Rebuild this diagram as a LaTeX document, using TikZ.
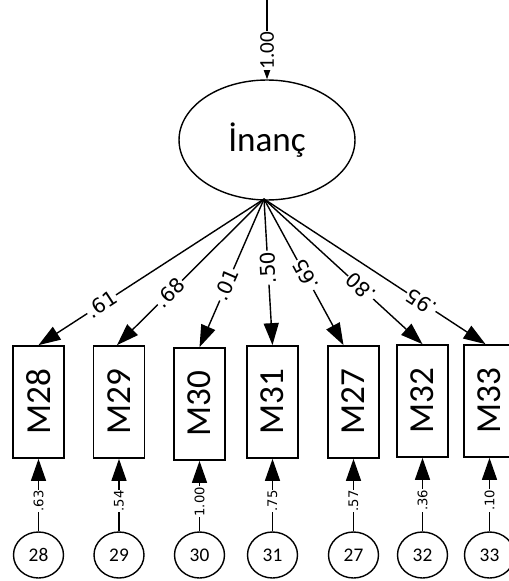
\documentclass[tikz,border=0pt]{standalone}
\usepackage{fontspec}
\setmainfont{Carlito}
\newfontfamily\coeffont{DejaVu Sans}
\usetikzlibrary{arrows.meta,shapes.geometric}

\tikzset{
    item/.style={draw, line width=1pt, minimum width=1.02cm, minimum height=2.24cm, inner sep=0pt, font=\fontsize{20}{22}\selectfont},
    errc/.style={draw, ellipse, line width=0.8pt, minimum width=1.0cm, minimum height=0.92cm, inner sep=0pt, font=\fontsize{11}{12}\selectfont},
    coef/.style={fill=white, inner sep=0.5pt, font=\coeffont\fontsize{11.5}{12}\selectfont, sloped, allow upside down},
    errcoef/.style={fill=white, inner sep=0.5pt, font=\coeffont\fontsize{7.5}{8}\selectfont, sloped},
    load/.style={line width=0.8pt, {Triangle[length=0.44cm,width=0.3cm]}-},
    err/.style={line width=0.8pt, -{Triangle[length=0.44cm,width=0.3cm]}},
}

\begin{document}
\begin{tikzpicture}[x=0.02cm,y=-0.02cm]
    \useasboundingbox (0,0) rectangle (508,581);

    \node[draw, ellipse, line width=0.8pt, minimum width=3.52cm, minimum height=2.4cm, font=\fontsize{20}{22}\selectfont] (inanc) at (267,140) {İnanç};
    \coordinate (top) at (267,0);
    \coordinate (fan) at (264,199);
    \draw[line width=0.8pt, {Triangle[length=0.22cm,width=0.15cm]}-] (inanc) -- node[pos=0.36, sloped, fill=white, inner sep=0.5pt, font=\fontsize{12}{13}\selectfont] {1.00} (top);

    \foreach \id/\x/\y/\tip/\lcoef/\lpos/\rcoef in {
        28/38.5/402/0/.61/0.28/.63,
        29/119/402/-2/.68/0.36/.54,
        30/199.5/404/0/.01/0.42/1.00,
        31/272.5/402/0/.50/0.53/.75,
        27/353.5/402/-10/.65/0.48/.57,
        32/422.5/401/0/.80/0.39/.36,
        33/489.5/401/-4/.95/0.29/.10}
    {
        \node[item] (m\id) at (\x,\y) {\rotatebox{90}{M\id}};
        \node[errc] (e\id) at (\x,555) {\id};
        \draw[load] ([xshift=\tip*0.02cm]m\id.north) -- node[coef, pos=\lpos] {\lcoef} (fan);
        \draw[err] (e\id.north) -- node[errcoef, pos=0.42] {\rcoef} (m\id.south);
    }
\end{tikzpicture}
\end{document}
